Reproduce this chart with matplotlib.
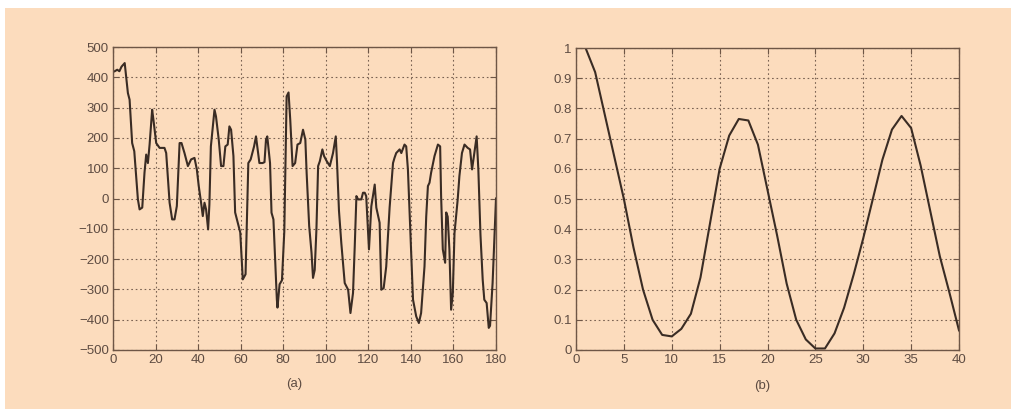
import matplotlib
matplotlib.use("Agg")
import matplotlib.pyplot as plt
from matplotlib.patches import Rectangle

# ---- data: panel (a) ----
a_x = [0.8, 2, 3, 4, 5.5, 7, 7.8, 9, 10, 11.7, 12.5, 13.75, 14.8, 15.6, 16.4, 17.2, 18.4, 19, 20.3,
       21.9, 24.2, 25, 26.6, 27.8, 28.9, 30, 31.3, 32.2, 33.6, 35.2, 36.7, 38.3, 39.4, 40.3, 41.4, 42.2,
       43, 43.75, 44.7, 45.3, 46, 47.7, 48.4, 49.7, 50.8, 51.9, 52.8, 53.9, 54.7, 55.5, 56.6, 57.4,
       59.8, 61, 62.3, 63.6, 64.7, 66.3, 67.2, 68, 68.8, 70.3, 71.2, 71.9, 72.5, 73.8, 74.5, 75.4,
       77, 77.3, 78.3, 79.4, 80.5, 81.6, 82.5, 83.3, 84.4, 85.6, 86.7, 88, 89.3, 90.4, 91, 92.2,
       93.3, 94, 94.8, 95.6, 96.4, 97.2, 98.4, 99.2, 100.3, 101.9, 103.4, 104.7, 105.3, 106.2,
       107.3, 108.9, 110.5, 111.6, 112.8, 113.6, 114.4, 115.2, 116.7, 117.5, 118.3, 119, 120.3,
       121.4, 123, 123.75, 125.3, 126.1, 127.2, 128.4, 130, 131.6, 132.3, 133.1, 134.7, 135.5,
       137, 137.8, 138.6, 139.8, 141, 142.5, 143.75, 144.8, 146.4, 147.2, 148, 148.75, 149.5,
       151.1, 152.7, 153.75, 154.2, 155, 156.1, 156.6, 157.3, 158.1, 158.9, 159.7, 160.5, 162,
       162.8, 164, 165.2, 166.7, 167.8, 168.75, 169.8, 170.9, 171.7, 172.7, 173.75, 174.5, 175.6,
       176.6, 177.2, 178.4, 180]
a_y = [420, 425, 420, 435, 447, 348, 326, 183, 156, -3, -36, -30, 85, 145, 117, 178, 293, 260, 183,
       167, 167, 150, -14, -69, -69, -25, 183, 183, 150, 107, 129, 134, 96, 41, -14, -58,
       -14, -36, -102, -20, 172, 293, 271, 194, 107, 107, 172, 178, 238, 227, 140, -46,
       -112, -267, -250, 117, 129, 172, 205, 160, 117, 117, 120, 194, 205, 117, -47, -69,
       -333, -360, -283, -270, -110, 337, 350, 260, 107, 117, 178, 183, 227, 194, 85, -91,
       -179, -262, -236, -103, 107, 123, 162, 140, 125, 107, 150, 205, 117, -40,
       -147, -279, -301, -378, -312, -160, 8, -3, -3, 19, 19, 8, -168,
       -26, 46, -30, -80, -301, -296, -225, -30, 117, 134, 150, 162, 150,
       178, 172, 96, -120, -334, -389, -411, -378, -224, -60, 41, 52, 85,
       140, 178, 172, 8, -168, -212, -46, -60, -168, -367, -312, -114, -3,
       74, 150, 178, 167, 162, 96, 150, 205, 96, -120, -268, -334, -345,
       -427, -420, -279, 0]

# ---- data: panel (b) ----
b_x = list(range(1, 41))
b_y = [1.00, 0.92, 0.78, 0.64, 0.50, 0.34, 0.20, 0.10, 0.05, 0.045,
       0.07, 0.12, 0.24, 0.42, 0.60, 0.71, 0.765, 0.76, 0.68, 0.53,
       0.38, 0.22, 0.10, 0.035, 0.005, 0.005, 0.055, 0.14, 0.25, 0.37,
       0.50, 0.63, 0.73, 0.775, 0.735, 0.61, 0.46, 0.31, 0.19, 0.065]

a_xticks = list(range(0, 181, 20))
a_yticks = list(range(-500, 501, 100))
b_xticks = list(range(0, 41, 5))
b_yticks = [0, 0.1, 0.2, 0.3, 0.4, 0.5, 0.6, 0.7, 0.8, 0.9, 1]
b_ylabels = ["0", "0.1", "0.2", "0.3", "0.4", "0.5", "0.6", "0.7", "0.8", "0.9", "1"]

BG = "#fcdcbd"
LINE = "#3a2c24"
SPINE = "#6e5646"
TXT = "#5e4c42"
GRID = "#7a6252"

W, H = 1011, 409
fig = plt.figure(figsize=(W / 100, H / 100), dpi=100, facecolor="white")
fig.patches.append(Rectangle((5 / W, 0), 1 - 5 / W, (H - 8) / H, transform=fig.transFigure,
                             facecolor=BG, edgecolor="none", zorder=-10))

plt.rcParams["font.family"] = ["Liberation Sans", "DejaVu Sans"]


def style(ax):
    ax.set_facecolor(BG)
    for s in ax.spines.values():
        s.set_color(SPINE)
        s.set_linewidth(1.0)
    ax.tick_params(direction="in", length=4, color=SPINE, labelcolor=TXT, labelsize=9.5,
                   top=True, right=True, pad=3)
    ax.grid(True, linestyle=(0, (1.5, 2.5)), color=GRID, linewidth=0.8)
    ax.set_axisbelow(True)


ax1 = fig.add_axes([113 / W, (H - 350) / H, 383 / W, 303 / H])
style(ax1)
ax1.plot(a_x, a_y, color=LINE, linewidth=1.5)
ax1.set_xlim(0, 180)
ax1.set_ylim(-500, 500)
ax1.set_xticks(a_xticks)
ax1.set_yticks(a_yticks)
ax1.set_yticklabels([str(v).replace("-", "\u2212") for v in a_yticks])

ax2 = fig.add_axes([576 / W, (H - 350) / H, 383 / W, 302 / H])
style(ax2)
ax2.plot(b_x, b_y, color=LINE, linewidth=1.5)
ax2.set_xlim(0, 40)
ax2.set_ylim(0, 1)
ax2.set_xticks(b_xticks)
ax2.set_yticks(b_yticks)
ax2.set_yticklabels(b_ylabels)

fig.text(294 / W, 1 - 384 / H, "(a)", color=TXT, fontsize=9.5, ha="center", va="center")
fig.text(762 / W, 1 - 386 / H, "(b)", color=TXT, fontsize=9.5, ha="center", va="center")

fig.savefig("out.png", dpi=100, facecolor="white")
